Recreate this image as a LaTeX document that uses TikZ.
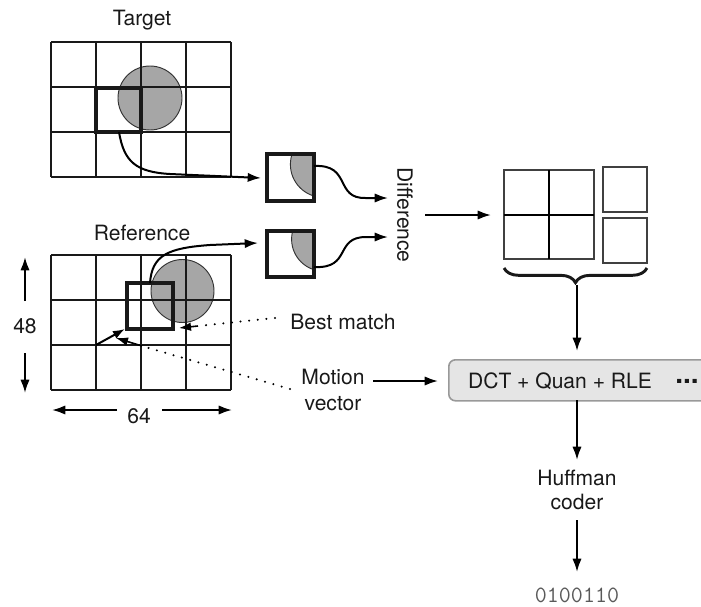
\documentclass[tikz,border=0pt]{standalone}
\usepackage{fontspec}
\setmainfont{TeX Gyre Heros}
\usetikzlibrary{arrows.meta,decorations.pathreplacing}
\begin{document}
\begin{tikzpicture}[x=0.75pt,y=-0.75pt,
  lbl/.style={font=\fontsize{15.8}{18}\selectfont, text=black!90, inner sep=0pt},
  arr/.style={line width=1.5pt, -{Latex[length=10pt,width=7pt]}},
  gridline/.style={line width=1.2pt, black!90},
  thickbox/.style={line width=2.5pt, black!90},
  disc/.style={fill=black!35, draw=black!80, line width=0.7pt},
  dotline/.style={line width=1.7pt, line cap=round, dash pattern=on 0pt off 6.5pt},
  rbox/.style={line width=1.1pt, draw=black!75},
]
\clip (0,0) rectangle (701,607);

% ---------- Target frame ----------
\node[lbl] (target) at (142,20) {Target};
\fill[disc] (150,98) circle (32);
\foreach \x in {51,96,141,186,231} \draw[gridline] (\x,42) -- (\x,177);
\foreach \y in {42,87,132,177} \draw[gridline] (51,\y) -- (231,\y);
\draw[thickbox] (96,88) rectangle (141,132);
\coordinate (tbox) at (119,132);

% ---------- Reference frame ----------
\node[lbl] (reference) at (142,233) {Reference};
\fill[disc] (182.5,291) circle (31.5);
\foreach \x in {51,96,141,186,231} \draw[gridline] (\x,255) -- (\x,390);
\foreach \y in {255,300,345,390} \draw[gridline] (51,\y) -- (231,\y);
\draw[thickbox] (127,283) rectangle (173,329);
\coordinate (rbox top) at (150,283);

% dimensions
\node[lbl] (h48) at (25,326) {48};
\coordinate (up) at (25,257);
\coordinate (down) at (25,393);
\draw[arr] (25,301) -- (up);
\draw[arr] (25,353) -- (down);
\node[lbl] (w64) at (139,416) {64};
\coordinate (lefttip) at (52,410);
\coordinate (righttip) at (232,410);
\draw[arr] (117,410) -- (lefttip);
\draw[arr] (162,410) -- (righttip);

% motion vector arrow inside reference
\coordinate (mvstart) at (96,345);
\coordinate (mvend) at (125,329);
\draw[arr, -{Latex[length=9pt,width=6.5pt]}] (mvstart) -- (mvend);

% ---------- small blocks ----------
\begin{scope}
  \clip (267,154) rectangle (314,201);
  \fill[disc] (323.4,164.4) circle (33);
\end{scope}
\draw[thickbox] (267,154) rectangle (314,201);
\coordinate (b1in) at (261,178);
\coordinate (b1out) at (314,166);

\begin{scope}
  \clip (267,231) rectangle (314,277);
  \fill[disc] (323.6,239.2) circle (32);
\end{scope}
\draw[thickbox] (267,231) rectangle (314,277);
\coordinate (b2in) at (258,243);
\coordinate (b2out) at (314,267);

% curves into blocks
\draw[arr] (tbox) .. controls (124,162) and (136,172) .. (170,174) -- (b1in);
\draw[arr] (rbox top) .. controls (152,255) and (168,248) .. (210,245) -- (b2in);

% Difference
\node[lbl, rotate=-90] (diff) at (405,215) {Difference};
\coordinate (d1) at (388,198);
\coordinate (d2) at (388,237);
\draw[arr] (b1out) .. controls (352,164) and (334,199) .. (366,198) -- (d1);
\draw[arr] (b2out) .. controls (352,269) and (334,237) .. (366,237) -- (d2);
\coordinate (gridin) at (491,215);
\draw[arr] (425,215) -- (gridin);

% ---------- residual blocks ----------
\draw[rbox] (504,170) rectangle (594,259);
\draw[line width=1.4pt, black] (549,170) -- (549,259);
\draw[line width=1.4pt, black] (504,215) -- (594,215);
\draw[rbox] (603,167) rectangle (647,212);
\draw[rbox] (603,218) rectangle (647,263);
\draw[line width=2.2pt, black!90, decorate, decoration={brace, amplitude=11pt}] (647,268) -- (504,268);
\coordinate (brace tip) at (577,285);

% ---------- DCT box ----------
\node[draw=black!40, fill=black!10, line width=1.2pt, rounded corners=5pt,
      anchor=north west, minimum width=210pt, minimum height=30.75pt, inner sep=0pt]
      (dct) at (448,359) {};
\node[lbl] (dcttext) at (560,381) {DCT + Quan + RLE};
\node[lbl, font=\bfseries\fontsize{21}{22}\selectfont] (dots) at (687,381) {...};
\coordinate (dcttop) at (577,351);
\draw[arr] (brace tip) -- (dcttop);

% labels
\node[lbl] (best) at (343,322) {Best match};
\node[lbl, align=center, font=\fontsize{15.8}{19}\selectfont] (motion) at (333,390) {Motion\\vector};
\coordinate (dctleft) at (438,381);
\draw[arr] (373,381) -- (dctleft);

% dotted pointers
\coordinate (bm1) at (275,318);
\coordinate (bm2) at (198,326);
\coordinate (bmtip) at (179,328);
\draw[dotline] (bm1) -- (bm2);
\draw[arr, -{Latex[length=9pt,width=6.5pt]}, line width=1.2pt] (bm2) -- (bmtip);
\coordinate (mv1) at (290,389);
\coordinate (mv2) at (142,346);
\coordinate (mvtip) at (116,338);
\draw[dotline] (mv1) -- (mv2);
\draw[arr, -{Latex[length=9pt,width=6.5pt]}, line width=1.2pt] (mv2) -- (mvtip);

% ---------- Huffman ----------
\node[lbl, align=center, font=\fontsize{15.8}{18.5}\selectfont] (huff) at (577,490) {Huffman\\coder};
\coordinate (hufftop) at (577,460);
\draw[arr] (577,400) -- (hufftop);
\node[font=\ttfamily\fontsize{17.5}{20}\selectfont, text=black!65, inner sep=0pt] (bits) at (577,595) {0100110};
\coordinate (bitstop) at (577,572);
\draw[arr] (577,520) -- (bitstop);
\end{tikzpicture}
\end{document}
